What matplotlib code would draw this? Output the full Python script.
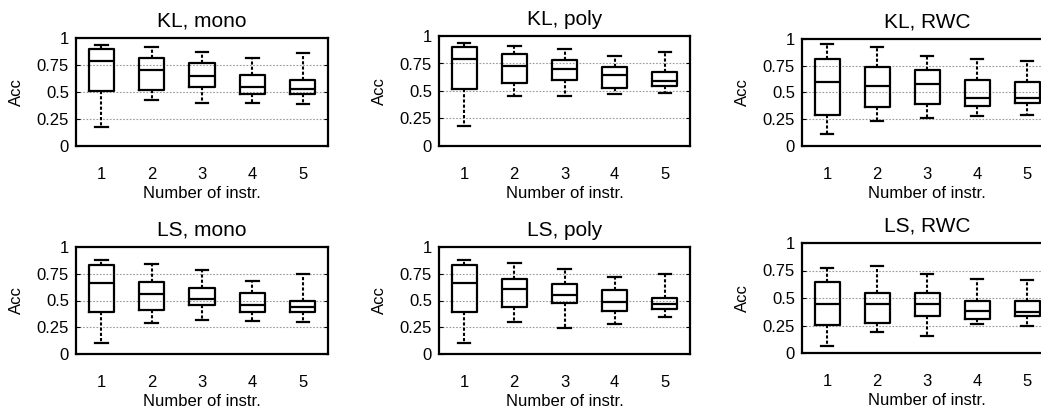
import matplotlib
matplotlib.use("Agg")
import matplotlib.pyplot as plt

plt.rcParams['font.family'] = ['Liberation Sans', 'DejaVu Sans']

positions = [1, 2, 3, 4, 5]
tick_labels = ["1", "2", "3", "4", "5"]
titles = ["KL, mono", "KL, poly", "KL, RWC", "LS, mono", "LS, poly", "LS, RWC"]
xlabel = "Number of instr."
ylabel = "Acc"
yticks = [0, 0.25, 0.5, 0.75, 1]
ytick_labels = ["0", "0.25", "0.5", "0.75", "1"]

# each: [whislo, q1, median, q3, whishi] for boxes 1..5
kl_mono = [[0.18, 0.512, 0.79, 0.90, 0.938],
           [0.43, 0.52, 0.704, 0.818, 0.914],
           [0.395, 0.546, 0.651, 0.772, 0.867],
           [0.395, 0.478, 0.543, 0.66, 0.815],
           [0.389, 0.478, 0.531, 0.611, 0.858]]
kl_poly = [[0.182, 0.514, 0.793, 0.903, 0.94],
           [0.45, 0.574, 0.723, 0.836, 0.912],
           [0.45, 0.596, 0.702, 0.784, 0.884],
           [0.474, 0.523, 0.647, 0.714, 0.82],
           [0.486, 0.547, 0.59, 0.669, 0.854]]
kl_rwc = [[0.11, 0.29, 0.594, 0.816, 0.95],
          [0.238, 0.363, 0.56, 0.74, 0.922],
          [0.26, 0.397, 0.575, 0.71, 0.838],
          [0.278, 0.378, 0.447, 0.613, 0.81],
          [0.288, 0.40, 0.453, 0.594, 0.79]]
ls_mono = [[0.10, 0.392, 0.665, 0.828, 0.881],
           [0.292, 0.411, 0.564, 0.677, 0.843],
           [0.317, 0.455, 0.511, 0.614, 0.787],
           [0.31, 0.395, 0.458, 0.571, 0.683],
           [0.301, 0.395, 0.442, 0.498, 0.746]]
ls_poly = [[0.10, 0.395, 0.665, 0.828, 0.881],
           [0.298, 0.439, 0.605, 0.702, 0.846],
           [0.245, 0.476, 0.555, 0.655, 0.793],
           [0.279, 0.404, 0.486, 0.599, 0.724],
           [0.342, 0.42, 0.47, 0.527, 0.749]]
ls_rwc = [[0.061, 0.259, 0.448, 0.649, 0.771],
          [0.189, 0.277, 0.448, 0.549, 0.79],
          [0.155, 0.332, 0.445, 0.543, 0.716],
          [0.262, 0.305, 0.381, 0.476, 0.677],
          [0.244, 0.332, 0.369, 0.47, 0.662]]
datasets = [kl_mono, kl_poly, kl_rwc, ls_mono, ls_poly, ls_rwc]

W, H = 1041, 411
fig = plt.figure(figsize=(W / 100, H / 100), dpi=100)
fig.patch.set_facecolor("white")

# pixel rectangles (left, right, top, bottom)
rects = [(76, 328, 38, 146), (439, 690, 36, 146), (802, 1052, 39, 146),
         (76, 328, 247, 354), (439, 690, 247, 354), (802, 1052, 243, 353)]

for title, data, (l, r, t, b) in zip(titles, datasets, rects):
    ax = fig.add_axes([l / W, 1 - b / H, (r - l) / W, (b - t) / H])
    stats = [dict(whislo=d[0], q1=d[1], med=d[2], q3=d[3], whishi=d[4], fliers=[])
             for d in data]
    ax.bxp(stats, positions=positions, widths=0.5, showfliers=False,
           boxprops=dict(color="black", linewidth=1.6),
           medianprops=dict(color="black", linewidth=1.6),
           whiskerprops=dict(color="black", linewidth=1.5, linestyle=(0, (1.5, 1.0))),
           capprops=dict(color="black", linewidth=1.6),
           capwidths=0.25)
    ax.set_xlim(0.5, 5.5)
    ax.set_ylim(0, 1)
    ax.set_yticks(yticks)
    ax.set_yticklabels(ytick_labels, fontsize=12)
    ax.set_xticks(positions)
    ax.set_xticklabels(tick_labels, fontsize=12)
    ax.tick_params(axis='x', length=0, pad=15)
    ax.tick_params(axis='y', direction='in', length=3, pad=5, right=True)
    for yv in [0.25, 0.5, 0.75]:
        ax.axhline(yv, color="#999999", linestyle=(0, (1.5, 1.5)), linewidth=0.8, zorder=0)
    for s in ax.spines.values():
        s.set_linewidth(1.6)
    ax.set_title(title, fontsize=15, pad=8)
    ax.set_xlabel(xlabel, fontsize=12, labelpad=3)
    ax.set_ylabel(ylabel, fontsize=12, labelpad=9)

fig.savefig("out.png", dpi=100, facecolor="white")
